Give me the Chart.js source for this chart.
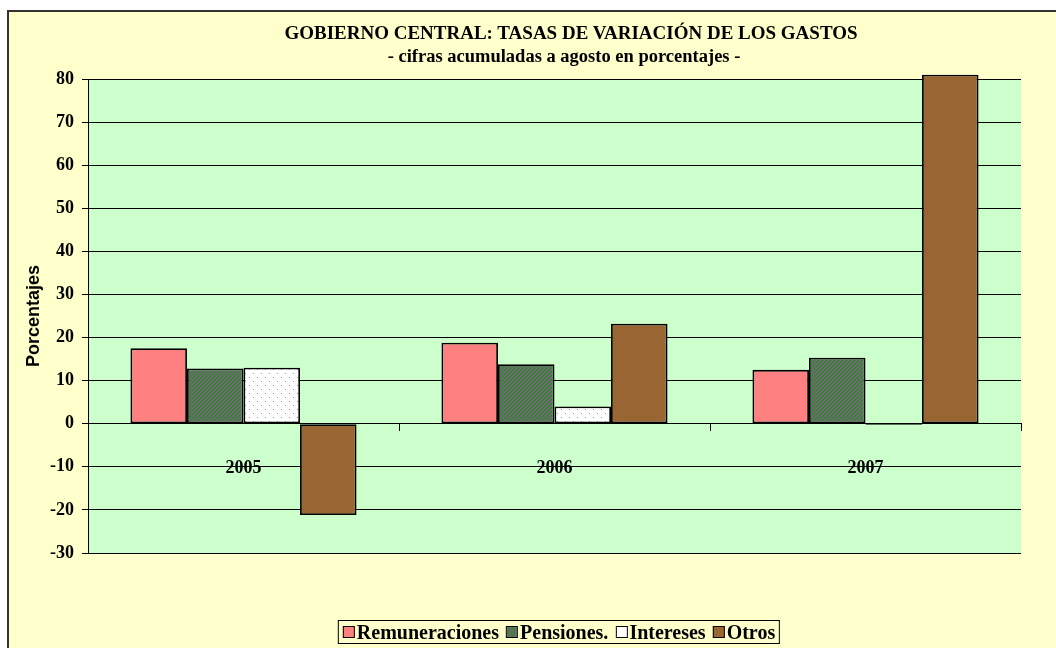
<!DOCTYPE html>
<html>
<head>
<meta charset="utf-8">
<script src="https://cdn.jsdelivr.net/npm/chart.js@4.4.1/dist/chart.umd.min.js"></script>
<style>
  html, body { margin: 0; padding: 0; background: #fff; overflow: hidden; }
  #frame { position: absolute; left: 7px; top: 10px; width: 1100px; height: 700px;
           background: #FFFFCC; border-left: 2px solid #333; border-top: 2px solid #333; }
  #wrap { position: absolute; left: 0; top: 0; width: 1056px; height: 648px; }
  .ttl { position: absolute; transform: translateX(-50%); white-space: nowrap;
         font-family: "Liberation Serif", "Times New Roman", serif; font-weight: bold; color: #000; }
  #legend { position: absolute; top: 620px; left: 559px; transform: translateX(-50%);
            border: 1px solid #000; padding: 1px 4px 1px 4px; white-space: nowrap;
            font-family: "Liberation Serif", "Times New Roman", serif; font-weight: bold; font-size: 20px; line-height: 20px; }
  #legend span.item { display: inline-block; margin-right: 7px; }
  #legend span.item:last-child { margin-right: 0; }
  #legend span.sw { display: inline-block; width: 10px; height: 10px; border: 1px solid #000; margin-right: 2px; vertical-align: 1px; }
</style>
</head>
<body>
<div id="frame"></div>
<div id="wrap"><canvas id="chart" width="1056" height="648"></canvas></div>
<div class="ttl" style="left:571px;top:22px;font-size:19px;">GOBIERNO CENTRAL: TASAS DE VARIACIÓN DE LOS GASTOS</div>
<div class="ttl" style="left:564px;top:46px;font-size:18.5px;">- cifras acumuladas a agosto en porcentajes -</div>
<div id="legend"></div>
<script>
const years = ['2005', '2006', '2007'];
const remuneraciones = [17.5, 18.8, 12.5];
const pensiones = [12.8, 13.8, 15.3];
const intereses = [13.0, 4.0, -0.3];
const otros = [-21.2, 23.2, 81];
const yTicks = [-30, -20, -10, 0, 10, 20, 30, 40, 50, 60, 70, 80];

// fill patterns like the old spreadsheet ones
function makePattern(kind) {
    const c = document.createElement('canvas');
    const cx = c.getContext('2d');
    if (kind === 'cross') {
        c.width = 4; c.height = 4;
        cx.fillStyle = '#2E8B2E';
        cx.fillRect(0, 0, 4, 4);
        cx.fillStyle = '#CC33CC';
        [[0, 0], [2, 2], [1, 3], [3, 1]].forEach(p => cx.fillRect(p[0], p[1], 1, 1));
    } else {
        c.width = 8; c.height = 8;
        cx.fillStyle = '#FFFFFF';
        cx.fillRect(0, 0, 8, 8);
        cx.fillStyle = '#8888FF';
        cx.fillRect(1, 1, 1, 1);
        cx.fillRect(5, 5, 1, 1);
    }
    return c;
}

const crossCanvas = makePattern('cross');
const dotCanvas = makePattern('dots');
const ctx = document.getElementById('chart').getContext('2d');
const crossFill = ctx.createPattern(crossCanvas, 'repeat');
const dotFill = ctx.createPattern(dotCanvas, 'repeat');

const series = [
    { label: 'Remuneraciones', data: remuneraciones, fill: '#FF8080', css: '#FF8080' },
    { label: 'Pensiones.', data: pensiones, fill: crossFill, css: 'url(' + crossCanvas.toDataURL() + ')' },
    { label: 'Intereses', data: intereses, fill: dotFill, css: '#FFFFFF' },
    { label: 'Otros', data: otros, fill: '#996633', css: '#996633' }
];

// legend built from the series
const legendEl = document.getElementById('legend');
series.forEach(s => {
    const item = document.createElement('span');
    item.className = 'item';
    const sw = document.createElement('span');
    sw.className = 'sw';
    sw.style.background = s.css;
    item.appendChild(sw);
    item.appendChild(document.createTextNode(s.label));
    legendEl.appendChild(item);
});

const plotBg = {
    id: 'plotBg',
    beforeDraw(chart) {
        const a = chart.chartArea;
        chart.ctx.save();
        chart.ctx.fillStyle = '#CCFFCC';
        chart.ctx.fillRect(a.left, a.top, a.right - a.left, a.bottom - a.top);
        chart.ctx.restore();
    }
};

const serif = "'Liberation Serif', 'Times New Roman', serif";

new Chart(ctx, {
    type: 'bar',
    data: {
        labels: years,
        datasets: series.map(s => ({
            label: s.label,
            data: s.data,
            backgroundColor: s.fill,
            borderColor: '#000',
            borderWidth: 1.8,
            borderSkipped: false,
            clip: false
        }))
    },
    options: {
        responsive: false,
        animation: false,
        layout: { padding: { left: 12, right: 35, top: 79, bottom: 95 } },
        datasets: { bar: { categoryPercentage: 0.727, barPercentage: 1.0 } },
        scales: {
            y: {
                min: -30,
                max: 80,
                afterFit(scale) { scale.width = 76; },
                afterBuildTicks(scale) { scale.ticks = yTicks.map(v => ({ value: v })); },
                grid: { color: '#000', lineWidth: 1, tickLength: 6 },
                border: { display: true, color: '#000' },
                ticks: { padding: 8, color: '#000', font: { family: serif, size: 18, weight: 'bold' } },
                title: {
                    display: true,
                    text: 'Porcentajes',
                    color: '#000',
                    padding: { top: 11, bottom: 0 },
                    font: { family: "'Liberation Sans', Arial, sans-serif", size: 18, weight: 'bold' }
                }
            },
            x: {
                position: { y: 0 },
                offset: true,
                grid: { offset: true, drawOnChartArea: false, drawTicks: true, tickLength: 7, color: '#000' },
                border: { display: true, color: '#000' },
                ticks: { padding: 27, color: '#000', font: { family: serif, size: 18, weight: 'bold' } }
            }
        },
        plugins: {
            legend: { display: false },
            title: { display: false },
            tooltip: { enabled: false }
        }
    },
    plugins: [plotBg]
});
</script>
</body>
</html>
